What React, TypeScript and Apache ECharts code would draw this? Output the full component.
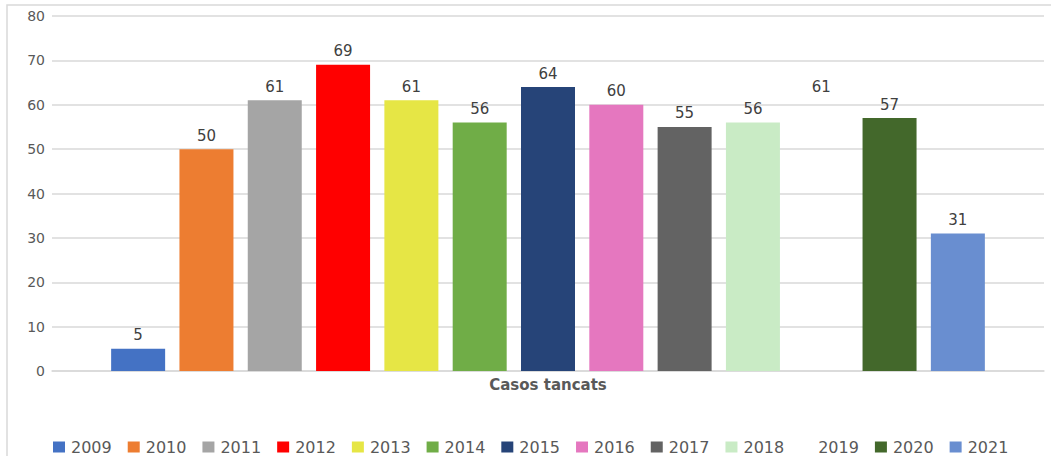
import React, { useEffect, useRef } from "react";
import * as echarts from "echarts";

const categories = ["Casos tancats"];
const years = ["2009", "2010", "2011", "2012", "2013", "2014", "2015", "2016", "2017", "2018", "2019", "2020", "2021"];
const values = [5, 50, 61, 69, 61, 56, 64, 60, 55, 56, 61, 57, 31];
const colors = [
  "#4472C4", "#ED7D31", "#A5A5A5", "#FF0000", "#E6E645", "#70AD47",
  "#264478", "#E577BF", "#636363", "#C9EBC5", "rgba(255,255,255,0)", "#43682B", "#698ED0",
];
const yTicks = { min: 0, max: 80, interval: 10 };

const FONT = "DejaVu Sans";

export default function App() {
  const ref = useRef<HTMLDivElement>(null);
  useEffect(() => {
    const chart = echarts.init(ref.current!, null, { renderer: "svg" });
    chart.setOption({
      animation: false,
      textStyle: { fontFamily: FONT },
      graphic: [
        {
          type: "rect",
          shape: { x: 7, y: 5, width: 1200, height: 600 },
          style: { fill: "none", stroke: "#D9D9D9", lineWidth: 1.5 },
          silent: true,
        },
      ],
      grid: { left: 52, right: 7, top: 16, bottom: 85 },
      xAxis: {
        type: "category",
        data: categories,
        axisLine: { show: true, lineStyle: { color: "#D9D9D9", width: 1.5 } },
        axisTick: { show: false },
        axisLabel: { color: "#595959", fontSize: 15, fontWeight: "bold", fontFamily: FONT, margin: 6 },
      },
      yAxis: {
        type: "value",
        min: yTicks.min,
        max: yTicks.max,
        interval: yTicks.interval,
        axisLine: { show: false },
        axisTick: { show: false },
        splitLine: { lineStyle: { color: "#D9D9D9", width: 1.5 } },
        axisLabel: { color: "#595959", fontSize: 14, fontFamily: FONT, margin: 7 },
      },
      legend: {
        data: years,
        left: 48,
        top: 434,
        icon: "rect",
        itemWidth: 12,
        itemHeight: 11,
        itemGap: 16,
        textStyle: { color: "#595959", fontSize: 16, fontFamily: FONT, padding: [0, 0, 0, 1] },
      },
      series: years.map((y, i) => ({
        name: y,
        type: "bar",
        data: [values[i]],
        barWidth: 54,
        barGap: "26.5%",
        itemStyle: { color: colors[i] },
        label: {
          show: true,
          position: "top",
          distance: 6,
          color: "#404040",
          fontSize: 15,
          fontFamily: FONT,
        },
      })),
    });
    return () => chart.dispose();
  }, []);
  return (
    <div
      ref={ref}
      style={{ position: "fixed", left: 0, top: 0, width: 1051, height: 456, background: "#fff" }}
    />
  );
}
